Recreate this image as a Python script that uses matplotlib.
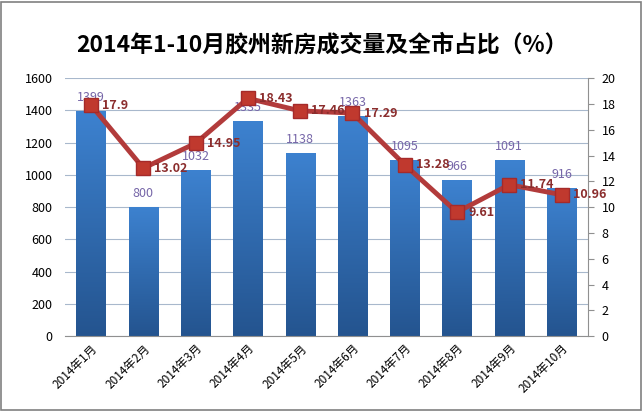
import numpy as np
import matplotlib.pyplot as plt
from matplotlib.patches import Rectangle
from matplotlib.colors import LinearSegmentedColormap

plt.rcParams['font.family'] = ['Noto Sans CJK SC', 'DejaVu Sans']

# 数据
months = ['2014年1月', '2014年2月', '2014年3月', '2014年4月', '2014年5月',
          '2014年6月', '2014年7月', '2014年8月', '2014年9月', '2014年10月']
volume = [1399, 800, 1032, 1335, 1138, 1363, 1095, 966, 1091, 916]
share = [17.9, 13.02, 14.95, 18.43, 17.46, 17.29, 13.28, 9.61, 11.74, 10.96]

fig = plt.figure(figsize=(6.43, 4.11), dpi=100)
fig.patches.append(Rectangle((0.002, 0.003), 0.995, 0.993, transform=fig.transFigure,
                             fill=False, edgecolor='#808080', linewidth=1.2))

ax = fig.add_axes([0.101, 0.182, 0.813, 0.628])
x = np.arange(len(months))

# 柱子（渐变）
bars = ax.bar(x, volume, width=0.56, color='#2f6db5', zorder=2)
grad = np.linspace(0, 1, 256).reshape(-1, 1)
cmap = LinearSegmentedColormap.from_list('b', ['#24548f', '#3d82d0'])
for b in bars:
    im = ax.imshow(grad, cmap=cmap, aspect='auto', origin='lower', zorder=2,
                   extent=[b.get_x(), b.get_x() + b.get_width(), 0, b.get_height()])
    im.set_clip_path(b)
for xi, v in zip(x, volume):
    ax.annotate(str(v), (xi, v), xytext=(0, 5), textcoords='offset points',
                ha='center', va='bottom', fontsize=9, color='#7666a8', zorder=5)

ax.set_xlim(-0.5, len(months) - 0.5)
ax.set_ylim(0, 1600)
ax.set_yticks(range(0, 1601, 200))
ax.yaxis.grid(True, color='#a8b8cc', linewidth=0.8)
ax.set_axisbelow(True)
for s in ['top', 'left', 'right']:
    ax.spines[s].set_visible(False)
ax.spines['bottom'].set_color('#909090')
ax.tick_params(axis='y', length=0, labelsize=9, pad=9)
ax.tick_params(axis='x', length=0, labelsize=8.5, pad=4)
ax.set_xticks(x)
ax.set_xticklabels(months, rotation=45, ha='right', rotation_mode='anchor')

# 占比折线
ax2 = ax.twinx()
ax2.plot(x, share, color='#b23b3b', linewidth=3.5, marker='s', markersize=10,
         markerfacecolor='#c0392e', markeredgecolor='#a52a2a', zorder=4)
for xi, v in zip(x, share):
    ax2.annotate(f'{v:g}', (xi, v), xytext=(8, 0), textcoords='offset points',
                 ha='left', va='center', fontsize=9, fontweight='bold', color='#8b2d2d', zorder=6)
ax2.set_ylim(0, 20)
ax2.set_yticks(range(0, 21, 2))
for s in ['top', 'left', 'bottom']:
    ax2.spines[s].set_visible(False)
ax2.spines['right'].set_color('#909090')
ax2.tick_params(axis='y', length=4, color='#909090', labelsize=9, pad=6)

fig.text(0.5, 0.89, '2014年1-10月胶州新房成交量及全市占比（%）', ha='center', va='center',
         fontsize=16.5, fontweight='bold')

fig.savefig('out.png', dpi=100)
